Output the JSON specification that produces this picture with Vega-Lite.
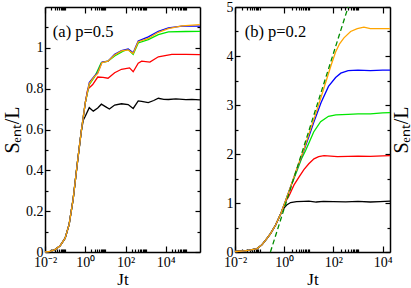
{
"$schema":"https://vega.github.io/schema/vega-lite/v6.json",
"background":"white",
"padding":{"left":2,"top":0,"right":0,"bottom":0},
"spacing":20,
"config":{"view":{"stroke":null},"font":"Liberation Serif","axis":{"grid":false,"domainColor":"black","domainWidth":1.5,"tickColor":"black","tickWidth":1.2,"labelColor":"black","labelFont":"Liberation Serif","labelFontSize":14,"titleFont":"Liberation Serif","titleColor":"black","titleFontWeight":"normal","labelOverlap":false,"labelFlush":false}},
"datasets":{
"a":[
{"s":"k","x":0.01,"y":0},{"s":"k","x":0.0178,"y":0.003},{"s":"k","x":0.0316,"y":0.012},{"s":"k","x":0.0562,"y":0.03},{"s":"k","x":0.1,"y":0.068},{"s":"k","x":0.158,"y":0.135},{"s":"k","x":0.251,"y":0.26},{"s":"k","x":0.398,"y":0.43},{"s":"k","x":0.631,"y":0.59},{"s":"k","x":0.794,"y":0.645},
{"s":"k","x":1,"y":0.665},{"s":"k","x":1.58,"y":0.707},{"s":"k","x":2.51,"y":0.69},{"s":"k","x":4.17,"y":0.705},{"s":"k","x":6.31,"y":0.724},{"s":"k","x":10,"y":0.712},{"s":"k","x":15.8,"y":0.7},{"s":"k","x":28.8,"y":0.72},{"s":"k","x":63.1,"y":0.726},{"s":"k","x":135,"y":0.722},{"s":"k","x":240,"y":0.703},{"s":"k","x":427,"y":0.74},{"s":"k","x":631,"y":0.738},{"s":"k","x":1349,"y":0.732},{"s":"k","x":2512,"y":0.742},{"s":"k","x":4266,"y":0.753},{"s":"k","x":7943,"y":0.748},{"s":"k","x":13490,"y":0.747},{"s":"k","x":31623,"y":0.75},{"s":"k","x":100000,"y":0.746},{"s":"k","x":199526,"y":0.748},{"s":"k","x":500000,"y":0.745},
{"s":"r","x":0.01,"y":0},{"s":"r","x":0.0178,"y":0.003},{"s":"r","x":0.0316,"y":0.012},{"s":"r","x":0.0562,"y":0.03},{"s":"r","x":0.1,"y":0.068},{"s":"r","x":0.158,"y":0.135},{"s":"r","x":0.251,"y":0.26},{"s":"r","x":0.398,"y":0.43},{"s":"r","x":0.631,"y":0.59},{"s":"r","x":0.794,"y":0.66},
{"s":"r","x":1,"y":0.73},{"s":"r","x":1.32,"y":0.797},{"s":"r","x":2.34,"y":0.82},{"s":"r","x":4.17,"y":0.857},{"s":"r","x":7.59,"y":0.855},{"s":"r","x":13.5,"y":0.851},{"s":"r","x":28.8,"y":0.878},{"s":"r","x":63.1,"y":0.895},{"s":"r","x":158,"y":0.902},{"s":"r","x":240,"y":0.883},{"s":"r","x":427,"y":0.925},{"s":"r","x":631,"y":0.935},{"s":"r","x":1622,"y":0.93},{"s":"r","x":4266,"y":0.956},{"s":"r","x":19953,"y":0.968},{"s":"r","x":100000,"y":0.968},{"s":"r","x":500000,"y":0.967},
{"s":"g","x":0.01,"y":0},{"s":"g","x":0.0178,"y":0.003},{"s":"g","x":0.0316,"y":0.012},{"s":"g","x":0.0562,"y":0.03},{"s":"g","x":0.1,"y":0.068},{"s":"g","x":0.158,"y":0.135},{"s":"g","x":0.251,"y":0.26},{"s":"g","x":0.398,"y":0.43},{"s":"g","x":0.631,"y":0.59},{"s":"g","x":0.794,"y":0.66},
{"s":"g","x":1,"y":0.73},{"s":"g","x":1.58,"y":0.82},{"s":"g","x":2.88,"y":0.857},{"s":"g","x":4.17,"y":0.89},{"s":"g","x":6.17,"y":0.927},{"s":"g","x":13.5,"y":0.935},{"s":"g","x":28.8,"y":0.96},{"s":"g","x":75.9,"y":0.984},{"s":"g","x":135,"y":0.992},{"s":"g","x":240,"y":0.968},{"s":"g","x":427,"y":1.024},{"s":"g","x":1349,"y":1.04},{"s":"g","x":4266,"y":1.065},{"s":"g","x":13490,"y":1.078},{"s":"g","x":100000,"y":1.08},{"s":"g","x":500000,"y":1.081},
{"s":"b","x":0.01,"y":0},{"s":"b","x":0.0178,"y":0.003},{"s":"b","x":0.0316,"y":0.012},{"s":"b","x":0.0562,"y":0.03},{"s":"b","x":0.1,"y":0.068},{"s":"b","x":0.158,"y":0.135},{"s":"b","x":0.251,"y":0.26},{"s":"b","x":0.398,"y":0.43},{"s":"b","x":0.631,"y":0.59},{"s":"b","x":0.794,"y":0.66},
{"s":"b","x":1,"y":0.73},{"s":"b","x":1.58,"y":0.83},{"s":"b","x":2.88,"y":0.862},{"s":"b","x":4.17,"y":0.878},{"s":"b","x":6.76,"y":0.93},{"s":"b","x":13.5,"y":0.935},{"s":"b","x":28.8,"y":0.968},{"s":"b","x":63.1,"y":0.987},{"s":"b","x":135,"y":0.995},{"s":"b","x":240,"y":0.976},{"s":"b","x":427,"y":1.033},{"s":"b","x":1349,"y":1.054},{"s":"b","x":4266,"y":1.081},{"s":"b","x":13490,"y":1.098},{"s":"b","x":63096,"y":1.106},{"s":"b","x":500000,"y":1.106},
{"s":"o","x":0.01,"y":0},{"s":"o","x":0.0178,"y":0.003},{"s":"o","x":0.0316,"y":0.012},{"s":"o","x":0.0562,"y":0.03},{"s":"o","x":0.1,"y":0.068},{"s":"o","x":0.158,"y":0.135},{"s":"o","x":0.251,"y":0.26},{"s":"o","x":0.398,"y":0.43},{"s":"o","x":0.631,"y":0.59},{"s":"o","x":0.794,"y":0.66},
{"s":"o","x":1,"y":0.73},{"s":"o","x":1.58,"y":0.825},{"s":"o","x":2.88,"y":0.86},{"s":"o","x":4.17,"y":0.875},{"s":"o","x":6.76,"y":0.928},{"s":"o","x":13.5,"y":0.935},{"s":"o","x":28.8,"y":0.965},{"s":"o","x":63.1,"y":0.985},{"s":"o","x":135,"y":0.99},{"s":"o","x":240,"y":0.972},{"s":"o","x":427,"y":1.03},{"s":"o","x":1349,"y":1.046},{"s":"o","x":4266,"y":1.076},{"s":"o","x":13490,"y":1.094},{"s":"o","x":63096,"y":1.108},{"s":"o","x":500000,"y":1.114}
],
"b":[
{"s":"k","x":0.01,"y":0.01},{"s":"k","x":0.02,"y":0.02},{"s":"k","x":0.0398,"y":0.04},{"s":"k","x":0.0794,"y":0.07},{"s":"k","x":0.126,"y":0.15},{"s":"k","x":0.2,"y":0.28},{"s":"k","x":0.282,"y":0.38},{"s":"k","x":0.447,"y":0.55},{"s":"k","x":0.724,"y":0.78},
{"s":"k","x":1,"y":0.9},{"s":"k","x":1.26,"y":0.96},{"s":"k","x":1.82,"y":1.01},{"s":"k","x":3.16,"y":1.03},{"s":"k","x":6.31,"y":1.035},{"s":"k","x":10,"y":1.04},{"s":"k","x":20,"y":1.02},{"s":"k","x":39.8,"y":1.035},{"s":"k","x":100,"y":1.03},{"s":"k","x":316,"y":1.025},{"s":"k","x":1000,"y":1.035},{"s":"k","x":3162,"y":1.02},{"s":"k","x":7943,"y":1.03},{"s":"k","x":20000,"y":1.04},
{"s":"r","x":0.01,"y":0.01},{"s":"r","x":0.02,"y":0.02},{"s":"r","x":0.0398,"y":0.04},{"s":"r","x":0.0794,"y":0.07},{"s":"r","x":0.126,"y":0.15},{"s":"r","x":0.2,"y":0.28},{"s":"r","x":0.282,"y":0.38},{"s":"r","x":0.447,"y":0.55},{"s":"r","x":0.724,"y":0.78},
{"s":"r","x":1.15,"y":1.03},{"s":"r","x":1.58,"y":1.15},{"s":"r","x":2.51,"y":1.37},{"s":"r","x":3.98,"y":1.53},{"s":"r","x":6.31,"y":1.68},{"s":"r","x":10,"y":1.8},{"s":"r","x":16.2,"y":1.9},{"s":"r","x":25.1,"y":1.945},{"s":"r","x":41.7,"y":1.965},{"s":"r","x":145,"y":1.945},{"s":"r","x":398,"y":1.95},{"s":"r","x":1000,"y":1.955},{"s":"r","x":3162,"y":1.95},{"s":"r","x":10000,"y":1.96},{"s":"r","x":20000,"y":1.965},
{"s":"g","x":0.01,"y":0.01},{"s":"g","x":0.02,"y":0.02},{"s":"g","x":0.0398,"y":0.04},{"s":"g","x":0.0794,"y":0.07},{"s":"g","x":0.126,"y":0.15},{"s":"g","x":0.2,"y":0.28},{"s":"g","x":0.282,"y":0.38},{"s":"g","x":0.447,"y":0.55},{"s":"g","x":0.724,"y":0.78},
{"s":"g","x":1.15,"y":1.05},{"s":"g","x":2,"y":1.38},{"s":"g","x":3.16,"y":1.63},{"s":"g","x":5.01,"y":1.9},{"s":"g","x":7.41,"y":2.07},{"s":"g","x":10,"y":2.22},{"s":"g","x":15.8,"y":2.45},{"s":"g","x":30.2,"y":2.66},{"s":"g","x":63.1,"y":2.77},{"s":"g","x":126,"y":2.8},{"s":"g","x":398,"y":2.81},{"s":"g","x":1000,"y":2.82},{"s":"g","x":3162,"y":2.82},{"s":"g","x":10000,"y":2.84},{"s":"g","x":20000,"y":2.846},
{"s":"b","x":0.01,"y":0.01},{"s":"b","x":0.02,"y":0.02},{"s":"b","x":0.0398,"y":0.04},{"s":"b","x":0.0794,"y":0.07},{"s":"b","x":0.126,"y":0.15},{"s":"b","x":0.2,"y":0.28},{"s":"b","x":0.282,"y":0.38},{"s":"b","x":0.447,"y":0.55},{"s":"b","x":0.724,"y":0.78},
{"s":"b","x":1.15,"y":1.05},{"s":"b","x":2,"y":1.39},{"s":"b","x":3.16,"y":1.67},{"s":"b","x":6.31,"y":2.07},{"s":"b","x":10,"y":2.35},{"s":"b","x":15.8,"y":2.64},{"s":"b","x":31.6,"y":3.05},{"s":"b","x":63.1,"y":3.38},{"s":"b","x":123,"y":3.56},{"s":"b","x":200,"y":3.65},{"s":"b","x":398,"y":3.7},{"s":"b","x":1000,"y":3.71},{"s":"b","x":3162,"y":3.7},{"s":"b","x":10000,"y":3.71},{"s":"b","x":20000,"y":3.71},
{"s":"o","x":0.01,"y":0.01},{"s":"o","x":0.02,"y":0.02},{"s":"o","x":0.0398,"y":0.04},{"s":"o","x":0.0794,"y":0.07},{"s":"o","x":0.126,"y":0.15},{"s":"o","x":0.2,"y":0.28},{"s":"o","x":0.282,"y":0.38},{"s":"o","x":0.447,"y":0.55},{"s":"o","x":0.724,"y":0.78},
{"s":"o","x":1.15,"y":1.05},{"s":"o","x":2,"y":1.39},{"s":"o","x":3.16,"y":1.68},{"s":"o","x":6.31,"y":2.09},{"s":"o","x":10,"y":2.4},{"s":"o","x":20,"y":2.85},{"s":"o","x":39.8,"y":3.32},{"s":"o","x":79.4,"y":3.8},{"s":"o","x":123,"y":4.08},{"s":"o","x":178,"y":4.25},{"s":"o","x":269,"y":4.37},{"s":"o","x":501,"y":4.5},{"s":"o","x":933,"y":4.56},{"s":"o","x":1738,"y":4.59},{"s":"o","x":3162,"y":4.56},{"s":"o","x":10000,"y":4.56},{"s":"o","x":20000,"y":4.56}
],
"d":[{"x":0.275,"y":0},{"x":398,"y":5}]
},
"hconcat":[
{
"width":155,"height":245,
"data":{"name":"a"},
"resolve":{"axis":{"x":"independent","y":"independent"}},
"layer":[
{"transform":[{"filter":"datum.s==='k'"}],"mark":{"type":"line","color":"black","strokeWidth":1.3},
"encoding":{"x":{"field":"x","type":"quantitative","scale":{"type":"log","domain":[0.01,500000],"nice":false},"axis":{"orient":"bottom","values":[0.01,1,100,10000],"labelExpr":"datum.value<0.1?'10⁻²':datum.value<10?'10⁰':datum.value<1000?'10²':'10⁴'","labelFont":"Liberation Serif","tickSize":-6,"labelPadding":9,"title":"Jt","titleFontSize":17,"titlePadding":2}},
"y":{"field":"y","type":"quantitative","scale":{"domain":[0,1.2],"nice":false},"axis":{"orient":"left","values":[0,0.2,0.4,0.6,0.8,1],"format":"~g","labelFont":"Liberation Serif","tickSize":-5,"labelPadding":7,"title":"Sₑₙₜ/L","titleFontSize":20,"titlePadding":3}}}},
{"transform":[{"filter":"datum.s==='r'"}],"mark":{"type":"line","color":"#ff0000","strokeWidth":1.3},
"encoding":{"x":{"field":"x","type":"quantitative","scale":{"type":"log","domain":[0.01,500000],"nice":false},"axis":{"orient":"top","values":[0.01,1,100,10000],"labels":false,"tickSize":-6,"title":null}},
"y":{"field":"y","type":"quantitative","scale":{"domain":[0,1.2],"nice":false},"axis":{"orient":"right","values":[0,0.2,0.4,0.6,0.8,1],"labels":false,"tickSize":-5,"title":null}}}},
{"transform":[{"filter":"datum.s==='g'"}],"mark":{"type":"line","color":"#00e600","strokeWidth":1.3},
"encoding":{"x":{"field":"x","type":"quantitative","scale":{"type":"log","domain":[0.01,500000],"nice":false},"axis":{"orient":"bottom","values":[0.02,0.03,0.04,0.05,0.06,0.07,0.08,0.09,0.1,2,3,4,5,6,7,8,9,10,200,300,400,500,600,700,800,900,1000,20000,30000,40000,50000,60000,70000,80000,90000,100000],"labels":false,"domain":false,"tickSize":-3,"title":null}},
"y":{"field":"y","type":"quantitative","scale":{"domain":[0,1.2],"nice":false},"axis":{"orient":"left","values":[0.1,0.3,0.5,0.7,0.9,1.1],"labels":false,"domain":false,"tickSize":-3,"title":null}}}},
{"transform":[{"filter":"datum.s==='b'"}],"mark":{"type":"line","color":"#0000ff","strokeWidth":1.3},
"encoding":{"x":{"field":"x","type":"quantitative","scale":{"type":"log","domain":[0.01,500000],"nice":false},"axis":{"orient":"top","values":[0.02,0.03,0.04,0.05,0.06,0.07,0.08,0.09,0.1,2,3,4,5,6,7,8,9,10,200,300,400,500,600,700,800,900,1000,20000,30000,40000,50000,60000,70000,80000,90000,100000],"labels":false,"domain":false,"tickSize":-3,"title":null}},
"y":{"field":"y","type":"quantitative","scale":{"domain":[0,1.2],"nice":false},"axis":{"orient":"right","values":[0.1,0.3,0.5,0.7,0.9,1.1],"labels":false,"domain":false,"tickSize":-3,"title":null}}}},
{"transform":[{"filter":"datum.s==='o'"}],"mark":{"type":"line","color":"#ffa500","strokeWidth":1.3},
"encoding":{"x":{"field":"x","type":"quantitative","scale":{"type":"log","domain":[0.01,500000],"nice":false},"axis":null},
"y":{"field":"y","type":"quantitative","scale":{"domain":[0,1.2],"nice":false},"axis":null}}},
{"data":{"values":[{}]},"mark":{"type":"text","align":"left","baseline":"alphabetic","font":"Liberation Serif","fontSize":16.5,"color":"black"},
"encoding":{"x":{"datum":0.0245,"type":"quantitative","axis":null},"y":{"datum":1.055,"type":"quantitative","axis":null},"text":{"value":"(a) p=0.5"}}}
]
},
{
"width":155,"height":245,
"data":{"name":"b"},
"resolve":{"axis":{"x":"independent","y":"independent"}},
"layer":[
{"transform":[{"filter":"datum.s==='k'"}],"mark":{"type":"line","color":"black","strokeWidth":1.3},
"encoding":{"x":{"field":"x","type":"quantitative","scale":{"type":"log","domain":[0.01,20000],"nice":false},"axis":{"orient":"bottom","values":[0.01,1,100,10000],"labelExpr":"datum.value<0.1?'10⁻²':datum.value<10?'10⁰':datum.value<1000?'10²':'10⁴'","labelFont":"Liberation Serif","tickSize":-6,"labelPadding":9,"title":"Jt","titleFontSize":17,"titlePadding":2}},
"y":{"field":"y","type":"quantitative","scale":{"domain":[0,5],"nice":false},"axis":{"orient":"left","values":[0,1,2,3,4,5],"labelFont":"Liberation Serif","tickSize":-5,"labelPadding":7,"title":null}}}},
{"transform":[{"filter":"datum.s==='r'"}],"mark":{"type":"line","color":"#ff0000","strokeWidth":1.3},
"encoding":{"x":{"field":"x","type":"quantitative","scale":{"type":"log","domain":[0.01,20000],"nice":false},"axis":{"orient":"top","values":[0.01,1,100,10000],"labels":false,"tickSize":-6,"title":null}},
"y":{"field":"y","type":"quantitative","scale":{"domain":[0,5],"nice":false},"axis":{"orient":"right","values":[0,1,2,3,4,5],"labels":false,"tickSize":-5,"title":"Sₑₙₜ/L","titleAngle":270,"titleBaseline":"top","titleFontSize":20,"titlePadding":1}}}},
{"transform":[{"filter":"datum.s==='g'"}],"mark":{"type":"line","color":"#00e600","strokeWidth":1.3},
"encoding":{"x":{"field":"x","type":"quantitative","scale":{"type":"log","domain":[0.01,20000],"nice":false},"axis":{"orient":"bottom","values":[0.02,0.03,0.04,0.05,0.06,0.07,0.08,0.09,0.1,2,3,4,5,6,7,8,9,10,200,300,400,500,600,700,800,900,1000],"labels":false,"domain":false,"tickSize":-3,"title":null}},
"y":{"field":"y","type":"quantitative","scale":{"domain":[0,5],"nice":false},"axis":{"orient":"left","values":[0.5,1.5,2.5,3.5,4.5],"labels":false,"domain":false,"tickSize":-3,"title":null}}}},
{"transform":[{"filter":"datum.s==='b'"}],"mark":{"type":"line","color":"#0000ff","strokeWidth":1.3},
"encoding":{"x":{"field":"x","type":"quantitative","scale":{"type":"log","domain":[0.01,20000],"nice":false},"axis":{"orient":"top","values":[0.02,0.03,0.04,0.05,0.06,0.07,0.08,0.09,0.1,2,3,4,5,6,7,8,9,10,200,300,400,500,600,700,800,900,1000],"labels":false,"domain":false,"tickSize":-3,"title":null}},
"y":{"field":"y","type":"quantitative","scale":{"domain":[0,5],"nice":false},"axis":{"orient":"right","values":[0.5,1.5,2.5,3.5,4.5],"labels":false,"domain":false,"tickSize":-3,"title":null}}}},
{"transform":[{"filter":"datum.s==='o'"}],"mark":{"type":"line","color":"#ffa500","strokeWidth":1.3},
"encoding":{"x":{"field":"x","type":"quantitative","scale":{"type":"log","domain":[0.01,20000],"nice":false},"axis":null},
"y":{"field":"y","type":"quantitative","scale":{"domain":[0,5],"nice":false},"axis":null}}},
{"data":{"name":"d"},"mark":{"type":"line","color":"#008c00","strokeWidth":1.3,"strokeDash":[5,3]},
"encoding":{"x":{"field":"x","type":"quantitative","axis":null},"y":{"field":"y","type":"quantitative","axis":null}}},
{"data":{"values":[{}]},"mark":{"type":"text","align":"left","baseline":"alphabetic","font":"Liberation Serif","fontSize":16.5,"color":"black"},
"encoding":{"x":{"datum":0.0248,"type":"quantitative","axis":null},"y":{"datum":4.384,"type":"quantitative","axis":null},"text":{"value":"(b) p=0.2"}}}
]
}
]
}
